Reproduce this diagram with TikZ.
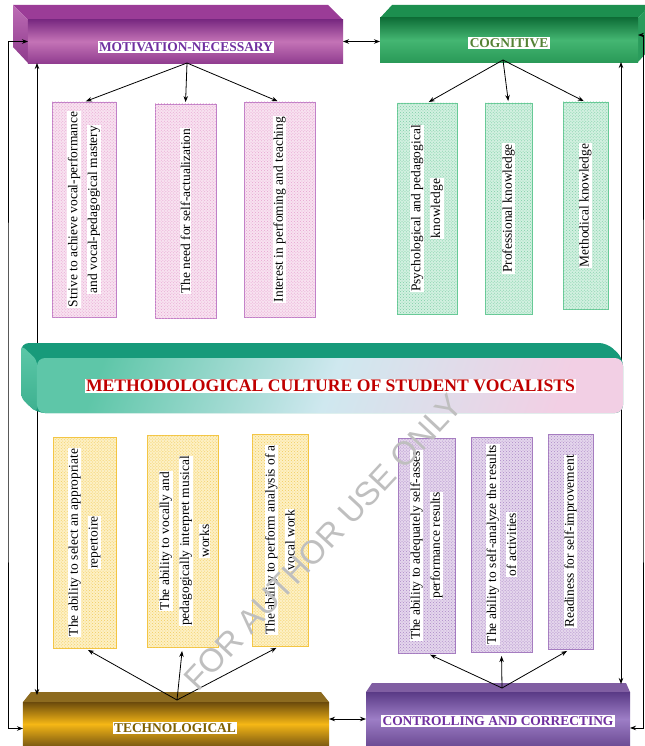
\documentclass[tikz,border=0pt]{standalone}
\usepackage{fontspec}
\setmainfont{Liberation Serif}
\newfontfamily\wmfont{Liberation Sans}
\usetikzlibrary{arrows.meta,patterns}
\definecolor{motTop}{HTML}{9B3C97}
\definecolor{motL1}{HTML}{BD6CB5}
\definecolor{motL2}{HTML}{8E3A8C}
\definecolor{motF1}{HTML}{7A2A82}
\definecolor{motF2}{HTML}{C473B6}
\definecolor{motF3}{HTML}{913D90}
\definecolor{motText}{HTML}{7030A0}
\definecolor{cogTop}{HTML}{1C8F4F}
\definecolor{cogSide}{HTML}{2A9C5C}
\definecolor{cogF1}{HTML}{0F6F38}
\definecolor{cogF2}{HTML}{44B672}
\definecolor{cogF3}{HTML}{2A9A58}
\definecolor{cogText}{HTML}{548235}
\definecolor{techTop}{HTML}{8D6B1F}
\definecolor{techF1}{HTML}{6B4A0C}
\definecolor{techF2}{HTML}{F5B715}
\definecolor{techF3}{HTML}{7C5A12}
\definecolor{techText}{HTML}{7F6000}
\definecolor{ctrlTop}{HTML}{805EA2}
\definecolor{ctrlF1}{HTML}{5A3A86}
\definecolor{ctrlF2}{HTML}{9D7EC6}
\definecolor{ctrlF3}{HTML}{6C4B94}
\definecolor{ctrlText}{HTML}{7030A0}
\definecolor{banTop}{HTML}{179A7A}
\definecolor{banL1}{HTML}{5CC8A8}
\definecolor{banL2}{HTML}{3DB08F}
\definecolor{banA}{HTML}{5EC6A8}
\definecolor{banB}{HTML}{CFE8EF}
\definecolor{banC}{HTML}{F2CFE4}
\definecolor{banText}{HTML}{C00000}
\definecolor{pinkB}{HTML}{C080C8}
\definecolor{pinkF}{HTML}{F8E2F0}
\definecolor{pinkP}{HTML}{E6A2D0}
\definecolor{greenB}{HTML}{66C995}
\definecolor{greenF}{HTML}{D2F0E0}
\definecolor{greenP}{HTML}{7CCFA6}
\definecolor{yelB}{HTML}{F4C542}
\definecolor{yelF}{HTML}{FDF0C4}
\definecolor{yelP}{HTML}{F2CC5C}
\definecolor{purB}{HTML}{A57CC0}
\definecolor{purF}{HTML}{E4D6EC}
\definecolor{purP}{HTML}{AD88C8}
\newcommand{\hlw}[1]{{\setlength{\fboxsep}{0.6pt}\colorbox{white}{#1}}}
\tikzset{
  every node/.style={inner sep=0pt, outer sep=0pt},
  subbox/.style n args={3}{draw=#1, line width=0.8bp, fill=#2,
     postaction={pattern=crosshatch dots, pattern color=#3}},
  vtext/.style={rotate=90, align=center, font=\fontsize{13.5}{20}\selectfont},
  hdrtxt/.style={fill=white, inner sep=1.5bp, font=\fontsize{13.5}{15}\bfseries\selectfont},
  arr/.style={-{Stealth[length=6bp,width=4.5bp]}, line width=0.8bp},
  dbl/.style={{Stealth[length=6bp,width=4.5bp]}-{Stealth[length=6bp,width=4.5bp]}, line width=0.8bp},
}
\begin{document}
\begin{tikzpicture}[x=1bp,y=-1bp]
\useasboundingbox (0,0) rectangle (645,746);
\fill[white] (0,0) rectangle (645,746);

% ---------- MOTIVATION header
\fill[motTop] (13,5) -- (328,5) -- (343,20) -- (28,20) -- cycle;
\shade[top color=motL1, bottom color=motL2] (13,5) -- (28,20) -- (28,63) -- (13,47) -- cycle;
\node[top color=motF1, bottom color=motF3, middle color=motF2, minimum width=315bp, minimum height=43bp] (mot) at (185.5,41.5) {};
\node[hdrtxt, text=motText] (motT) at (186,47) {MOTIVATION-NECESSARY};

% ---------- COGNITIVE header
\fill[cogTop] (380,18) -- (392,5) -- (650,5) -- (638,18) -- cycle;
\fill[cogSide] (638,18) -- (650,5) -- (650,49) -- (638,62) -- cycle;
\node[top color=cogF1, bottom color=cogF3, middle color=cogF2, minimum width=258bp, minimum height=44bp] (cog) at (509,40) {};
\node[hdrtxt, text=cogText] (cogT) at (509,43) {COGNITIVE};

% ---------- TECHNOLOGICAL header
\fill[techTop] (23,702) -- (31,692) -- (321,692) -- (329,702) -- cycle;
\node[top color=techF1, bottom color=techF3, middle color=techF2, minimum width=306bp, minimum height=44bp] (tech) at (176,724) {};
\node[hdrtxt, text=techText] (techT) at (175,728) {TECHNOLOGICAL};

% ---------- CONTROLLING header
\fill[ctrlTop] (366,692) -- (372,683) -- (626,683) -- (630,692) -- cycle;
\node[top color=ctrlF1, bottom color=ctrlF3, middle color=ctrlF2, minimum width=264bp, minimum height=54bp] (ctrl) at (498,719) {};
\node[hdrtxt, text=ctrlText] (ctrlT) at (498,721) {CONTROLLING AND CORRECTING};

% ---------- sub boxes: motivation
\node[subbox={pinkB}{pinkF}{pinkP}, minimum width=64bp, minimum height=215bp] (m1) at (84,209.5) {};
\node[subbox={pinkB}{pinkF}{pinkP}, minimum width=61bp, minimum height=214bp] (m2) at (185.5,211) {};
\node[subbox={pinkB}{pinkF}{pinkP}, minimum width=71bp, minimum height=215bp] (m3) at (279.5,209.5) {};
\node[vtext] (m1t) at (m1.center) {\hlw{Strive to achieve vocal-performance}\\\hlw{and vocal-pedagogical mastery}};
\node[vtext] (m2t) at (m2.center) {\hlw{The need for self-actualization}};
\node[vtext] (m3t) at (m3.center) {\hlw{Interest in perfoming and teaching}};

% ---------- sub boxes: cognitive
\node[subbox={greenB}{greenF}{greenP}, minimum width=60bp, minimum height=211bp] (c1) at (427,208.5) {};
\node[subbox={greenB}{greenF}{greenP}, minimum width=47bp, minimum height=211bp] (c2) at (508.5,208.5) {};
\node[subbox={greenB}{greenF}{greenP}, minimum width=45bp, minimum height=207bp] (c3) at (585.5,205.5) {};
\node[vtext] (c1t) at (c1.center) {\hlw{Psychological and pedagogical}\\\hlw{knowledge}};
\node[vtext] (c2t) at (c2.center) {\hlw{Professional knowledge}};
\node[vtext] (c3t) at (c3.center) {\hlw{Methodical knowledge}};

% ---------- sub boxes: technological
\node[subbox={yelB}{yelF}{yelP}, minimum width=63bp, minimum height=211bp] (t1) at (84.5,542.5) {};
\node[subbox={yelB}{yelF}{yelP}, minimum width=71bp, minimum height=212bp] (t2) at (182.5,541) {};
\node[subbox={yelB}{yelF}{yelP}, minimum width=56bp, minimum height=212bp] (t3) at (280,540) {};
\node[vtext] (t1t) at (t1.center) {\hlw{The ability to select an appropriate}\\\hlw{repertoire}};
\node[vtext] (t2t) at ([xshift=2bp]t2.center) {\hlw{The ability to vocally and}\\\hlw{pedagogically interpret musical}\\\hlw{works}};
\node[vtext] (t3t) at (t3.center) {\hlw{The ability to perform analysis of a}\\\hlw{vocal work}};

% ---------- sub boxes: controlling
\node[subbox={purB}{purF}{purP}, minimum width=57bp, minimum height=215bp] (r1) at (426.5,545.5) {};
\node[subbox={purB}{purF}{purP}, minimum width=61bp, minimum height=215bp] (r2) at (501.5,544.5) {};
\node[subbox={purB}{purF}{purP}, minimum width=45bp, minimum height=215bp] (r3) at (570.5,541.5) {};
\node[vtext] (r1t) at (r1.center) {\hlw{The ability to adequately self-asses}\\\hlw{performance results}};
\node[vtext] (r2t) at (r2.center) {\hlw{The ability to self-analyze the results}\\\hlw{of activities}};
\node[vtext] (r3t) at (r3.center) {\hlw{Readiness for self-improvement}};

% ---------- inner vertical connectors (behind banner)
\coordinate (xl) at (37,400);
\coordinate (xr) at (621,400);
\coordinate (techTF) at (176,695);
\coordinate (ctrlTF) at (498,684);
\draw[dbl] (mot.south -| xl) -- (techTF -| xl);
\draw[dbl] (cog.south -| xr) -- (ctrlTF -| xr);

% ---------- central banner
\fill[banTop, rounded corners=8bp] (21,343) -- (607,343) -- (623,358) -- (623,413) -- (37,413) -- (21,398) -- cycle;
\shade[top color=banL1, bottom color=banL2, rounded corners=5bp] (21,345) -- (37,360) -- (37,413) -- (21,398) -- cycle;
\node[rounded corners=8bp, left color=banA, right color=banC, middle color=banB, shading angle=70, minimum width=586bp, minimum height=55bp] (ban) at (330,385.5) {};
\node[fill=white, inner sep=1bp, text=banText, font=\fontsize{17.7}{20}\bfseries\selectfont] (banT) at (330.5,386) {METHODOLOGICAL CULTURE OF STUDENT VOCALISTS};

% ---------- other connectors
\coordinate (xlo) at (8,400);
\coordinate (xro) at (643,400);
\draw[dbl] (mot.west) -| (xlo) |- ([yshift=-4.5pt]tech.west);
\draw[dbl] ([yshift=5pt]cog.east) -| (xro) |- ([yshift=-9pt]ctrl.east);
\draw[dbl] (mot.east) -- (cog.west |- mot.east);
\draw[dbl] (ctrl.west) -- (ctrl.west -| tech.east);

\coordinate (motS) at (187,63);
\coordinate (cogS) at (503,60);
\coordinate (techN) at (177,700);
\coordinate (ctrlN) at (502,688);
\draw[arr, shorten >=2bp] (motS) -- (m1.north);
\draw[arr, shorten >=2bp] (motS) -- (m2.north);
\draw[arr, shorten >=2bp] (motS) -- (m3.north);
\draw[arr, shorten >=2bp] (cogS) -- (c1.north);
\draw[arr, shorten >=2bp] (cogS) -- (c2.north);
\draw[arr, shorten >=2bp] (cogS) -- (c3.north);
\draw[arr, shorten >=4bp] (techN) -- (t1.south);
\draw[arr, shorten >=4bp] (techN) -- (t2.south);
\draw[arr, shorten >=4bp] (techN) -- (t3.south);
\draw[arr, shorten >=4bp] (ctrlN) -- (r1.south);
\draw[arr, shorten >=4bp] (ctrlN) -- (r2.south);
\draw[arr, shorten >=4bp] (ctrlN) -- (r3.south);

% ---------- watermark
\node[rotate=47, text=gray!50, font=\wmfont\fontsize{33}{33}\selectfont] (wm) at (323,542) {FOR AUTHOR USE ONLY};
\end{tikzpicture}
\end{document}
